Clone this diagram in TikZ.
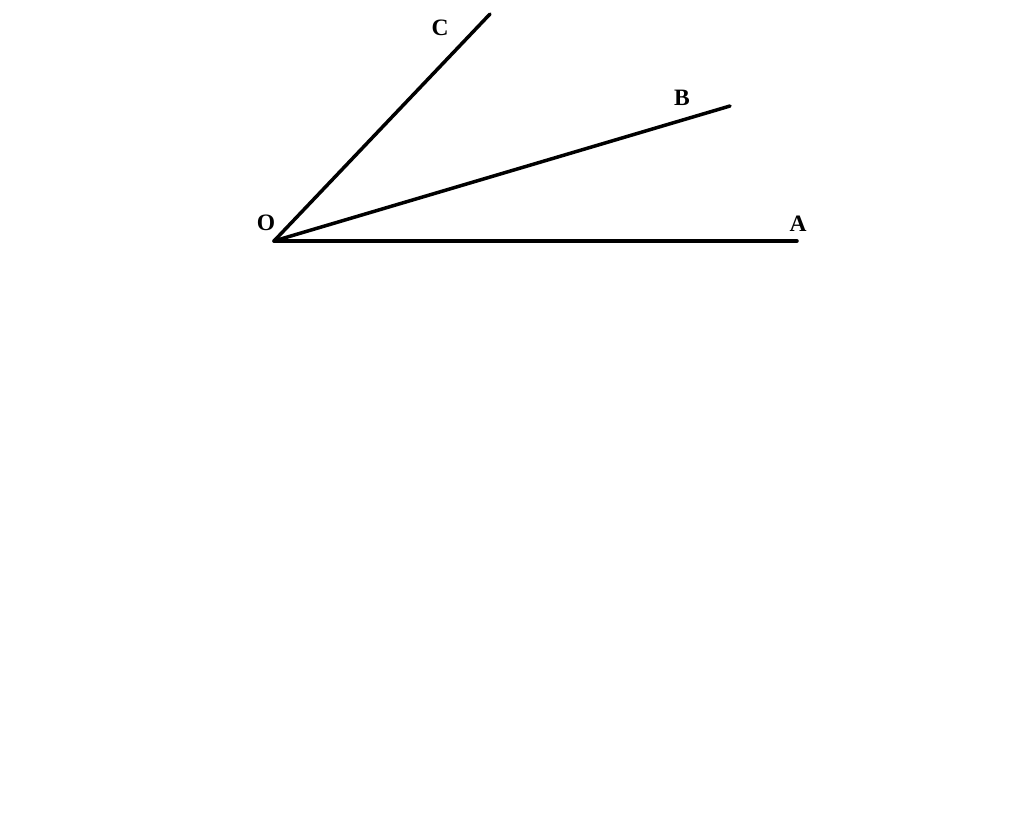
\documentclass[tikz,border=0pt]{standalone}
\usepackage{fontspec}
\setmainfont{Liberation Serif}
\begin{document}
\begin{tikzpicture}[x=1pt,y=-1pt,
  ray/.style={line width=3.5pt,line cap=round},
  lbl/.style={font=\fontsize{23.5}{25}\selectfont\bfseries,inner sep=0pt}]
\useasboundingbox (0,0) rectangle (1024,816);
\coordinate (O) at (274,241);
\coordinate (A) at (797,241);
\coordinate (B) at (730,106);
\coordinate (C) at (490,14);
\draw[ray] (O) -- (A);
\draw[ray] (O) -- (B);
\draw[ray] (O) -- (C);
\node[lbl] (lO) at (266,223) {O};
\node[lbl] (lA) at (798,224) {A};
\node[lbl] (lB) at (682,98) {B};
\node[lbl] (lC) at (440,28) {C};
\end{tikzpicture}
\end{document}
